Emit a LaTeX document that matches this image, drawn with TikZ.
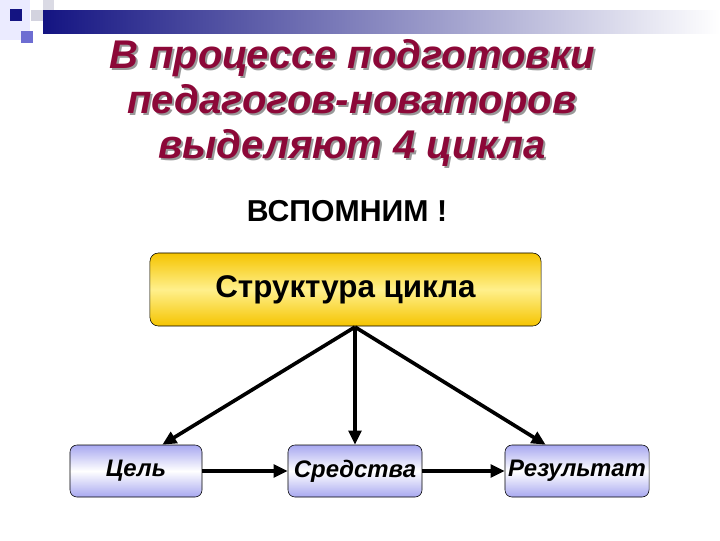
\documentclass[tikz,border=0pt]{standalone}
\usepackage{fontspec}
\setmainfont{Liberation Sans}
\usetikzlibrary{arrows.meta}

\definecolor{navy}{RGB}{20,20,130}
\definecolor{crimson}{RGB}{140,8,56}
\definecolor{gold}{RGB}{245,196,0}
\definecolor{paleyellow}{RGB}{255,240,140}
\definecolor{lavender}{RGB}{168,168,240}

\tikzset{
  mainbox/.style={draw=black, rounded corners=6pt, thin, top color=gold, bottom color=gold, middle color=paleyellow},
  stepbox/.style={draw=black, rounded corners=5pt, thin, top color=lavender, bottom color=lavender, middle color=white, minimum height=1.3cm, inner sep=2pt},
  arr/.style={-{Triangle[length=10pt,width=9pt]}, line width=2.6pt}
}

\begin{document}
\begin{tikzpicture}[x=0.025cm, y=-0.025cm]
    \useasboundingbox (0,0) rectangle (720,540);

    % Corner squares and top bar
    \fill[blue!8] (0,0) rectangle (30,40);
    \fill[navy!60!blue!60!white] (21,31) rectangle (33,43);
    \fill[blue!15!gray!25] (43,0) rectangle (54,22);
    \fill[blue!15!gray!30] (31,10) rectangle (53,21);
    \fill[navy] (10,9) rectangle (22,21);
    \shade[left color=navy, right color=white] (43,10) rectangle (720,33);

    % Title
    \node[text=black!40, align=center, font=\fontsize{28.5}{32}\selectfont\bfseries\itshape] (titleshadow) at (354,105)
        {В процессе подготовки\\педагогов-новаторов\\выделяют 4 цикла};
    \node[text=crimson, align=center, font=\fontsize{28.5}{32}\selectfont\bfseries\itshape] (title) at (352,103)
        {В процессе подготовки\\педагогов-новаторов\\выделяют 4 цикла};
    \node[font=\fontsize{21.5}{24}\selectfont\bfseries] (recall) at (347,211) {ВСПОМНИМ !};

    % Boxes
    \node[mainbox, minimum width=9.775cm, minimum height=1.825cm, font=\fontsize{22.3}{26}\selectfont\bfseries] (struct) at (345.5,289.5) {Структура цикла};
    \node[stepbox, minimum width=3.3cm, font=\fontsize{17}{20}\selectfont\bfseries\itshape] (goal) at (136,471) {Цель};
    \node[stepbox, minimum width=3.35cm, font=\fontsize{17}{20}\selectfont\bfseries\itshape] (means) at (355,471) {Средства};
    \node[stepbox, minimum width=3.6cm, font=\fontsize{17}{20}\selectfont\bfseries\itshape] (result) at (577,471) {Результат};

    % Arrows
    \coordinate (fork) at (355,327);
    \draw[arr] (fork) -- (goal.45);
    \draw[arr] (fork) -- (means.north);
    \draw[arr] (fork) -- (result.140);
    \draw[arr] (goal.east) -- (means.west);
    \draw[arr] (means.east) -- (result.west);

\end{tikzpicture}
\end{document}
